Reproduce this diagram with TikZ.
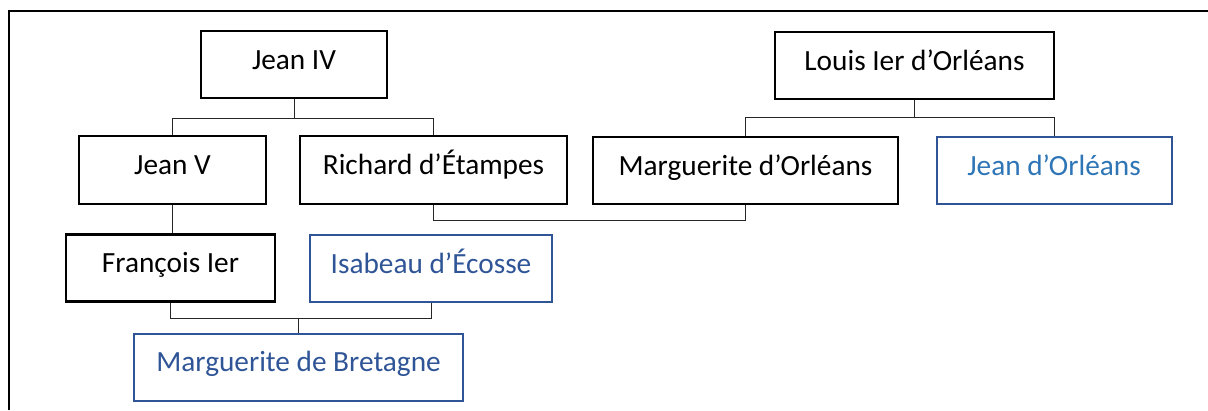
\documentclass[tikz,border=0pt]{standalone}
\usepackage{fontspec}
\setmainfont{Carlito}
\definecolor{bluetext}{HTML}{2F5597}
\definecolor{lightblue}{HTML}{2E75B6}
\definecolor{blueline}{HTML}{2F5597}
\begin{document}
\begin{tikzpicture}[x=1pt,y=-1pt,
  person/.style={draw=black,line width=2.6pt,rectangle,inner sep=0pt,
    minimum height=67pt,font=\fontsize{29.3}{34}\selectfont,
    text height=20pt,text depth=11pt},
  spouse/.style={person,draw=blueline,line width=2pt,text=bluetext},
  link/.style={draw=black!85,line width=1pt}]
\useasboundingbox (0,0) rectangle (1208,410);
\draw[line width=2pt] (9,410) -- (9,11) -- (1210,11);
\node[person,minimum width=186pt] (jean4) at (294,64.5) {Jean IV};
\node[person,minimum width=279pt] (louis) at (914.5,65.5) {Louis Ier d’Orléans};
\node[person,minimum width=187pt,minimum height=68pt] (jean5) at (172.5,170) {Jean V};
\node[person,minimum width=267pt,minimum height=68pt] (richard) at (433.5,170) {Richard d’Étampes};
\node[person,minimum width=305pt] (margo) at (745.5,170.5) {Marguerite d’Orléans};
\node[spouse,minimum width=235pt,text=lightblue] (jeano) at (1054,170.5) {Jean d’Orléans};
\node[person,minimum width=209pt] (francois) at (170.5,268) {François Ier};
\node[spouse,minimum width=242pt] (isabeau) at (431,268.5) {Isabeau d’Écosse};
\node[spouse,minimum width=329pt] (mdb) at (298.5,367) {Marguerite de Bretagne};
% Jean IV children
\draw[link] (jean4.south) -- ++(0,19) coordinate (j4bar);
\draw[link] (jean5.north) -- (jean5.north |- j4bar) -- (richard.north |- j4bar) -- (richard.north);
% Louis children
\draw[link] (louis.south) -- ++(0,17) coordinate (lbar);
\draw[link] (margo.north) -- (margo.north |- lbar) -- (jeano.north |- lbar) -- (jeano.north);
% Richard - Marguerite marriage
\draw[link] (richard.south) -- ++(0,15) coordinate (rmbar) -- (margo.south |- rmbar) -- (margo.south);
% Jean V - Francois
\draw[link] (jean5.south) -- (jean5.south |- francois.north);
% Francois - Isabeau marriage
\draw[link] (francois.south) -- ++(0,16) coordinate (fibar) -- (isabeau.south |- fibar) -- (isabeau.south);
\draw[link] (mdb.north) -- (mdb.north |- fibar);
\end{tikzpicture}
\end{document}
